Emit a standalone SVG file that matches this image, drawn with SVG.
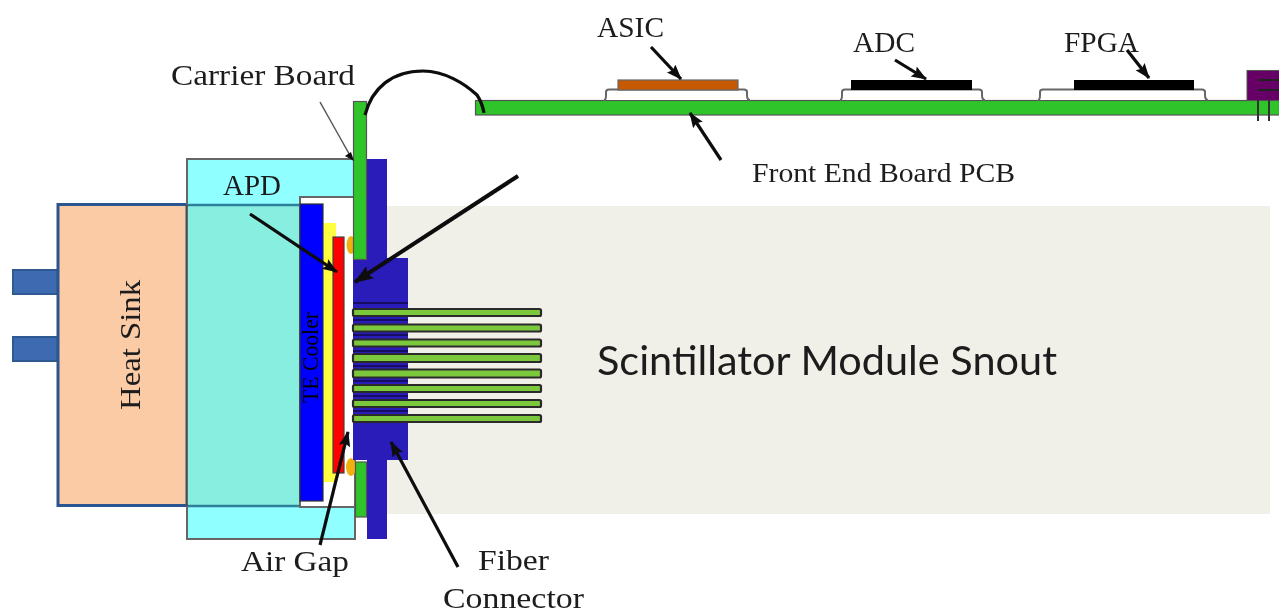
<svg xmlns="http://www.w3.org/2000/svg" width="1279" height="612" viewBox="0 0 1279 612">
<style>
rect,path,ellipse{filter:url(#s)}
text{filter:url(#q)}
.t{font-family:"Liberation Serif","Times New Roman",serif;font-size:30px;fill:#1c1c1c}
.a{fill:none;stroke:#0a0a0a;stroke-width:3.200;marker-end:url(#h)}
.f{fill:#7cc83c;stroke:#2c2c2c;stroke-width:2.200}
.b{fill:#2a1ab8}
.g{fill:#2fc42a;stroke:#555;stroke-width:1.200}
.p{fill:#fff;stroke:#666;stroke-width:2}
.tab{fill:#3d6bb0;stroke:#2f5a91;stroke-width:2}
</style>
<defs>
<marker id="h" markerWidth="6" markerHeight="5" refX="4.500" refY="1.800" orient="auto" markerUnits="strokeWidth"><path d="M0 0L4.800 1.800L0 3.600L.8 1.800Z" fill="#0a0a0a" style="filter:none"/></marker>
<filter id="s" filterUnits="userSpaceOnUse" x="0" y="0" width="1279" height="612"><feGaussianBlur stdDeviation="0.7"/></filter>
<filter id="q" filterUnits="userSpaceOnUse" x="-2000" y="-2000" width="4000" height="4000"><feGaussianBlur stdDeviation="0.45"/></filter>
</defs>
<rect width="1279" height="612" fill="#fff" style="filter:none"/>
<g id="snout"><rect x="387" y="206" width="883" height="308" fill="#f0efe8"/><text x="597" y="375" style="font-family:Lato,'Open Sans',sans-serif;font-size:40px;fill:#1c1c1c" textLength="460" lengthAdjust="spacingAndGlyphs">Scintillator Module Snout</text></g>
<g id="heat-sink">
<rect class="tab" x="13" y="270" width="45" height="24"/><rect class="tab" x="13" y="337" width="45" height="24"/>
<rect x="58" y="204.500" width="129" height="301" fill="#fbcba6" stroke="#2a5590" stroke-width="3"/>
</g>
<g id="cold-block">
<rect x="187" y="159" width="168" height="380" fill="#8fffff" stroke="#666" stroke-width="2"/>
<rect x="187" y="205" width="113" height="301" fill="#88efe0"/>
<path d="M187 205H300M187 506H300" stroke="#2f7f9a" stroke-width="2.500" fill="none"/>
<rect x="300" y="197" width="55" height="310" fill="#fff" stroke="#666" stroke-width="2"/>
<path d="M187 205V506" stroke="#444" stroke-width="1.500" fill="none"/>
</g>
<g id="te-cooler">
<rect x="300" y="204" width="23" height="297" fill="#0000ff" stroke="#333" stroke-width="1.200"/>
<text class="t" style="font-size:23px;fill:#000" transform="translate(318,403) rotate(-90)" textLength="91" lengthAdjust="spacingAndGlyphs">TE Cooler</text>
</g>
<g id="yellow-layer"><rect x="324" y="223" width="12" height="259" fill="#ffff40"/></g>
<g id="apd-chip"><rect x="333" y="237" width="11" height="236" fill="#ff0000" stroke="#444" stroke-width="1.200"/></g>
<g id="o-rings"><ellipse cx="351" cy="245" rx="4.500" ry="9" fill="#f0b010"/><ellipse cx="351" cy="467" rx="5" ry="9" fill="#f0b010"/></g>
<g id="fiber-connector">
<path class="b" d="M366 159H387V258H408V460H387V539H367V460H353V258H366Z"/>
<path d="M353 303H408M353 320H408M353 335H408M353 351H408M353 366H408M353 381H408M353 396H408M353 411H408" stroke="#151060" stroke-width="2" fill="none"/>
</g>
<g id="carrier-board">
<rect class="g" x="353.500" y="101.500" width="13" height="158"/>
<rect class="g" x="355.500" y="462" width="11" height="55"/>
</g>
<g id="fibers">
<rect class="f" x="353" y="309" width="188" height="7" rx="1.500"/><rect class="f" x="353" y="324.500" width="188" height="7" rx="1.500"/><rect class="f" x="353" y="339.500" width="188" height="7" rx="1.500"/><rect class="f" x="353" y="354" width="188" height="8" rx="1.500"/><rect class="f" x="353" y="369.500" width="188" height="8" rx="1.500"/><rect class="f" x="353" y="385" width="188" height="7" rx="1.500"/><rect class="f" x="353" y="400" width="188" height="7" rx="1.500"/><rect class="f" x="353" y="415" width="188" height="7" rx="1.500"/>
</g>
<g id="front-end-board"><rect class="g" x="475.500" y="100.500" width="804" height="14.500"/></g>
<g id="asic"><path class="p" d="M604 100Q606 100 606 95V92Q606 89.500 609 89.500H744Q747 89.500 747 92V95Q747 100 750 100"/><rect x="618" y="80" width="120" height="10" fill="#c55a05" stroke="#666" stroke-width="1.200"/></g>
<g id="adc"><path class="p" d="M840 100Q842 100 842 95V92Q842 89.500 845 89.500H979Q982 89.500 982 92V95Q982 100 985 100"/><rect x="851" y="80" width="121" height="10" fill="#000"/></g>
<g id="fpga"><path class="p" d="M1038 100Q1040 100 1040 95V92Q1040 89.500 1043 89.500H1202Q1205 89.500 1205 92V95Q1205 100 1208 100"/><rect x="1074" y="80" width="120" height="10" fill="#000"/></g>
<g id="connector-part">
<rect x="1247" y="70.500" width="33" height="30" fill="#660066" stroke="#555"/>
<path d="M1258 80H1279M1258 90H1279" stroke="#222" stroke-width="2" fill="none"/>
<path d="M1258 100V121M1269 100V121" stroke="#333" stroke-width="2" fill="none"/>
</g>
<g id="connectors">
<path d="M365 115C372 88 392 71 423 71C445 71 465 84 477 95C481 101 483 107 484 113" fill="none" stroke="#0a0a0a" stroke-width="3.200"/>
<path d="M320 102L352 159" fill="none" stroke="#555" stroke-width="1.500"/>
<path d="M354 161L345 156L351 152Z" fill="#111"/>
<path class="a" d="M250 214L337 272"/>
<path class="a" d="M518 176L355 282" style="stroke-width:4"/>
<path class="a" d="M320 545L348 432"/>
<path class="a" d="M458 567L391 442"/>
<path class="a" d="M651 47L681 79"/>
<path class="a" d="M895 60L926 79"/>
<path class="a" d="M1127 50L1149 78"/>
<path class="a" d="M721 160L690 113"/>
</g>
<g id="labels">
<text class="t" transform="translate(140,410) rotate(-90)" textLength="130" lengthAdjust="spacingAndGlyphs">Heat Sink</text>
<text class="t" x="171" y="85" textLength="184" lengthAdjust="spacingAndGlyphs">Carrier Board</text>
<text class="t" x="223" y="195" textLength="58" lengthAdjust="spacingAndGlyphs">APD</text>
<text class="t" x="597" y="37" textLength="67" lengthAdjust="spacingAndGlyphs">ASIC</text>
<text class="t" x="853" y="52" textLength="62" lengthAdjust="spacingAndGlyphs">ADC</text>
<text class="t" x="1064" y="52" textLength="75" lengthAdjust="spacingAndGlyphs">FPGA</text>
<text class="t" x="752" y="182" style="font-size:27px" textLength="263" lengthAdjust="spacingAndGlyphs">Front End Board PCB</text>
<text class="t" x="241" y="571" textLength="108" lengthAdjust="spacingAndGlyphs">Air Gap</text>
<text class="t" x="478" y="570" textLength="71" lengthAdjust="spacingAndGlyphs">Fiber</text>
<text class="t" x="443" y="608" textLength="141" lengthAdjust="spacingAndGlyphs">Connector</text>
</g>
</svg>
